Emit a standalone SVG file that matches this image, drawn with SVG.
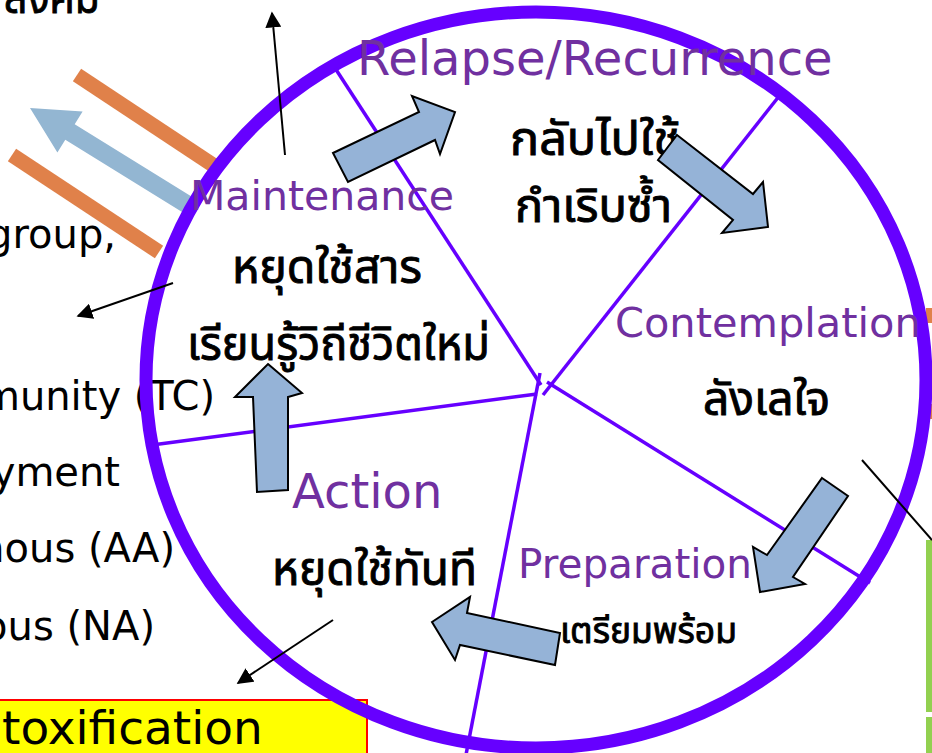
<svg xmlns="http://www.w3.org/2000/svg" width="932" height="753" viewBox="0 0 932 753">
<style>
.stage{font-family:"DejaVu Sans","Noto Sans",sans-serif;fill:#7030A0}
.th{font-family:"Noto Sans Thai","Noto Sans","DejaVu Sans",sans-serif;fill:#000;stroke:#000;stroke-width:0.9;font-size:46px}
.side{font-family:"DejaVu Sans","Noto Sans",sans-serif;fill:#000;font-size:40px}
.spoke{stroke:#6600FF;stroke-width:3.5;fill:none}
.blk{fill:#95B3D7;stroke:#000;stroke-width:2;stroke-linejoin:miter}
.thin{stroke:#000;stroke-width:2;fill:none}
</style>
<defs>
<marker id="ah2" viewBox="0 0 10 10" refX="9" refY="5" markerWidth="16" markerHeight="16" markerUnits="userSpaceOnUse" orient="auto"><path d="M0,0 L10,5 L0,10 z" fill="#000"/></marker>
</defs>
<rect width="932" height="753" fill="#fff"/>

<g id="side-texts">
<text class="th" x="4" y="13" textLength="96" lengthAdjust="spacingAndGlyphs">สังคม</text>
<text class="side" x="116" y="248" text-anchor="end">group,</text>
<text class="side" x="215" y="410" text-anchor="end">Community (TC)</text>
<text class="side" x="120" y="486" text-anchor="end">Employment</text>
<text class="side" x="175" y="562" text-anchor="end" font-size="39">Anonymous (AA)</text>
<text class="side" x="155" y="640" text-anchor="end">Anonymous (NA)</text>
</g>
<g id="detox">
<rect x="-5" y="700" width="372" height="60" fill="#FFFF00" stroke="#FF0000" stroke-width="2"/>
<text x="2" y="744" font-family="DejaVu Sans,sans-serif" font-size="47" fill="#000">toxification</text>
</g>
<line x1="77" y1="75" x2="222" y2="171" stroke="#E0814A" stroke-width="15"/>
<line x1="12" y1="155" x2="159" y2="252" stroke="#E0814A" stroke-width="15"/>
<polygon points="30,108 82.6,111.5 74.7,124.3 192.7,197.3 183.3,212.7 65.3,139.7 57.4,152.5" fill="#93B6D2"/>
<rect x="926" y="308" width="6" height="15" fill="#E0814A"/>
<rect x="926" y="404" width="6" height="15" fill="#E0814A"/>
<rect x="926" y="540" width="6" height="172" fill="#92D050"/>
<rect x="926" y="717" width="6" height="36" fill="#92D050"/>

<ellipse cx="536" cy="380" rx="390" ry="368" fill="none" stroke="#6600FF" stroke-width="13"/>
<g id="spokes">
<line class="spoke" x1="335" y1="68" x2="541" y2="385"/>
<line class="spoke" x1="780" y1="95" x2="543" y2="395"/>
<line class="spoke" x1="547" y1="382" x2="870" y2="583"/>
<line class="spoke" x1="537" y1="394" x2="152" y2="445"/>
<line class="spoke" x1="540" y1="373" x2="465" y2="760"/>
</g>

<g id="relapse">
<text class="stage" x="357" y="75" font-size="48">Relapse/Recurrence</text>
<text class="th" x="510" y="155" textLength="170" lengthAdjust="spacingAndGlyphs">กลับไปใช้</text>
<text class="th" x="515" y="222" textLength="157" lengthAdjust="spacingAndGlyphs">กำเริบซ้ำ</text>
</g>
<g id="contemplation">
<text class="stage" x="615" y="337" font-size="41.5">Contemplation</text>
<text class="th" x="703" y="415" textLength="127" lengthAdjust="spacingAndGlyphs">ลังเลใจ</text>
</g>
<g id="preparation">
<text class="stage" x="518" y="578" font-size="40.5">Preparation</text>
<text class="th" x="560" y="643" style="font-size:36px" textLength="177" lengthAdjust="spacingAndGlyphs">เตรียมพร้อม</text>
</g>
<g id="action">
<text class="stage" x="292" y="508" font-size="48">Action</text>
<text class="th" x="272" y="585" textLength="205" lengthAdjust="spacingAndGlyphs">หยุดใช้ทันที</text>
</g>
<g id="maintenance">
<text class="stage" x="190" y="210" font-size="41">Maintenance</text>
<text class="th" x="232" y="283" textLength="190" lengthAdjust="spacingAndGlyphs">หยุดใช้สาร</text>
<text class="th" x="187" y="360" textLength="303" lengthAdjust="spacingAndGlyphs">เรียนรู้วิถีชีวิตใหม่</text>
</g>

<g id="connectors">
<polygon class="blk" points="333,153 419,112 412,96 455,112 440,154 435,140 348,182"/>
<polygon class="blk" points="677,135 753,194 763,182 768,227 722,233 733,220 658,160"/>
<polygon class="blk" points="822,478 848,496 793,577 805,584 760,592 753,547 767,555"/>
<polygon class="blk" points="432,622 470,597 467,613 560,633 555,665 460,645 455,660"/>
<polygon class="blk" points="268,364 302,393 288,397 288,490 257,492 253,397 235,397"/>
<line class="thin" x1="285" y1="155" x2="272" y2="13" marker-end="url(#ah2)"/>
<line class="thin" x1="173" y1="283" x2="78" y2="316" marker-end="url(#ah2)"/>
<line class="thin" x1="333" y1="620" x2="238" y2="683" marker-end="url(#ah2)"/>
<line class="thin" x1="862" y1="460" x2="932" y2="540"/>
</g>
</svg>
